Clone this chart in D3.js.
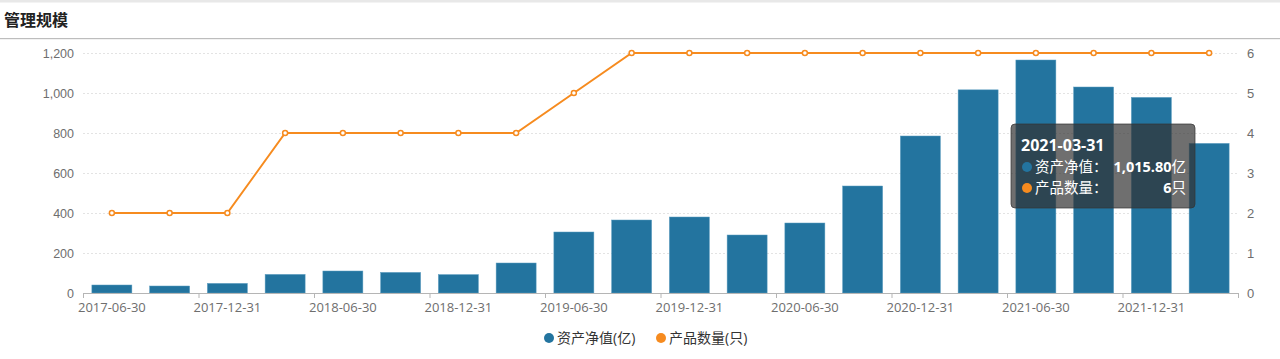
<!DOCTYPE html>
<html><head><meta charset="utf-8">
<script src="https://cdn.jsdelivr.net/npm/d3@7/dist/d3.min.js"></script>
<style>
html,body{margin:0;padding:0;background:#fff;}
svg{display:block;font-family:"Open Sans","Noto Sans CJK SC",sans-serif;}
</style></head>
<body>
<svg id="c" width="1280" height="359"></svg>
<script>
const categories = ["2017-06-30","2017-09-30","2017-12-31","2018-03-31","2018-06-30","2018-09-30","2018-12-31","2019-03-31","2019-06-30","2019-09-30","2019-12-31","2020-03-31","2020-06-30","2020-09-30","2020-12-31","2021-03-31","2021-06-30","2021-09-30","2021-12-31","2022-03-31"];
const netAssets = [40,35,48,93,110,103,92,150,305,365,380,290,350,535,785,1015.80,1165,1030,978,748];
const productCount = [2,2,2,4,4,4,4,4,5,6,6,6,6,6,6,6,6,6,6,6];
const leftTicks = [0,200,400,600,800,1000,1200];
const rightTicks = [0,1,2,3,4,5,6];
const seriesNames = ["资产净值(亿)","产品数量(只)"];
const title = "管理规模";
const tipIndex = 15;

const svg = d3.select("#c");
const W = 1280, H = 359;
const m = {l:83, r:1238, t:53, b:293};
const blue = "#23749f", orange = "#f68b1f";

// top band and title
svg.append("rect").attr("x",0).attr("y",0).attr("width",W).attr("height",2.5).attr("fill","#e8e8e8");
svg.append("text").attr("x",4).attr("y",26).attr("font-size",16).attr("font-weight","bold").attr("fill","#222").text(title);
svg.append("rect").attr("x",0).attr("y",38).attr("width",W).attr("height",1.2).attr("fill","#bdbdbd");

const x = d3.scaleBand().domain(categories).range([m.l,m.r]).paddingInner(0).paddingOuter(0);
const yL = d3.scaleLinear().domain([0,1200]).range([m.b,m.t]);
const yR = d3.scaleLinear().domain([0,6]).range([m.b,m.t]);

// grid
svg.append("g").selectAll("line").data(leftTicks.slice(1)).join("line")
  .attr("x1",m.l).attr("x2",m.r).attr("y1",d=>yL(d)+0.5).attr("y2",d=>yL(d)+0.5)
  .attr("stroke","#e3e3e3").attr("stroke-dasharray","2,2");

// left axis labels
const gl = svg.append("g").attr("transform",`translate(${m.l},0)`)
  .call(d3.axisLeft(yL).tickValues(leftTicks).tickSize(0).tickPadding(9).tickFormat(d3.format(",")));
gl.select(".domain").remove();
gl.selectAll("text").attr("font-size",12.5).attr("fill","#6e6e6e").attr("font-family",null);

const gr = svg.append("g").attr("transform",`translate(${m.r},0)`)
  .call(d3.axisRight(yR).tickValues(rightTicks).tickSize(0).tickPadding(9).tickFormat(d3.format("d")));
gr.select(".domain").remove();
gr.selectAll("text").attr("font-size",13).attr("fill","#6e6e6e").attr("font-family",null);

// bars
const bw = 40;
svg.append("g").selectAll("rect").data(netAssets).join("rect")
  .attr("x",(d,i)=>x(categories[i])+x.bandwidth()/2-bw/2)
  .attr("y",d=>yL(d)).attr("width",bw).attr("height",d=>yL(0)-yL(d))
  .attr("fill",blue).attr("stroke","#5a9cc0").attr("stroke-width",0.5);

// x axis
svg.append("line").attr("x1",m.l).attr("x2",m.r).attr("y1",m.b+0.5).attr("y2",m.b+0.5).attr("stroke","#b5b5b5");
const tickIdx = categories.map((c,i)=>i).filter(i=>i%2===0);
svg.append("g").selectAll("line").data(tickIdx.map(i=>x(categories[i])).concat([m.r])).join("line")
  .attr("x1",d=>d+0.5).attr("x2",d=>d+0.5).attr("y1",m.b).attr("y2",m.b+5).attr("stroke","#b5b5b5");
svg.append("g").selectAll("text").data(tickIdx).join("text")
  .attr("x",i=>x(categories[i])+x.bandwidth()/2).attr("y",m.b+19)
  .attr("text-anchor","middle").attr("font-size",13).attr("fill","#6e6e6e").text(i=>categories[i]);

// line
const line = d3.line().x((d,i)=>x(categories[i])+x.bandwidth()/2).y(d=>yR(d));
svg.append("path").datum(productCount).attr("d",line).attr("fill","none").attr("stroke",orange).attr("stroke-width",2);
svg.append("g").selectAll("circle").data(productCount).join("circle")
  .attr("cx",(d,i)=>x(categories[i])+x.bandwidth()/2).attr("cy",d=>yR(d)).attr("r",2.5)
  .attr("fill","#fff").attr("stroke",orange).attr("stroke-width",1.5);

// legend
const lg = svg.append("g").attr("font-size",14).attr("fill","#333");
lg.append("circle").attr("cx",549).attr("cy",338).attr("r",5).attr("fill",blue);
lg.append("text").attr("x",557).attr("y",343).text(seriesNames[0]);
lg.append("circle").attr("cx",661).attr("cy",338).attr("r",5).attr("fill",orange);
lg.append("text").attr("x",669).attr("y",343).text(seriesNames[1]);

// tooltip
const tg = svg.append("g");
tg.append("rect").attr("x",1011).attr("y",124).attr("width",184).attr("height",84).attr("rx",4)
  .attr("fill","rgba(50,50,50,0.7)").attr("stroke","rgba(51,51,51,0.7)");
tg.append("text").attr("x",1021).attr("y",151).attr("font-size",16).attr("font-weight","bold").attr("fill","#fff").text(categories[tipIndex]);
tg.append("circle").attr("cx",1027).attr("cy",167).attr("r",5).attr("fill",blue);
tg.append("text").attr("x",1035).attr("y",172).attr("font-size",14.5).attr("fill","#fff").text("资产净值：");
tg.append("text").attr("x",1186).attr("y",172).attr("font-size",14.5).attr("fill","#fff").attr("text-anchor","end")
  .html(`<tspan font-weight="bold">${d3.format(",.2f")(netAssets[tipIndex])}</tspan>亿`);
tg.append("circle").attr("cx",1027).attr("cy",188).attr("r",5).attr("fill",orange);
tg.append("text").attr("x",1035).attr("y",193).attr("font-size",14.5).attr("fill","#fff").text("产品数量：");
tg.append("text").attr("x",1186).attr("y",193).attr("font-size",14.5).attr("fill","#fff").attr("text-anchor","end")
  .html(`<tspan font-weight="bold">${productCount[tipIndex]}</tspan>只`);
</script>
</body></html>
